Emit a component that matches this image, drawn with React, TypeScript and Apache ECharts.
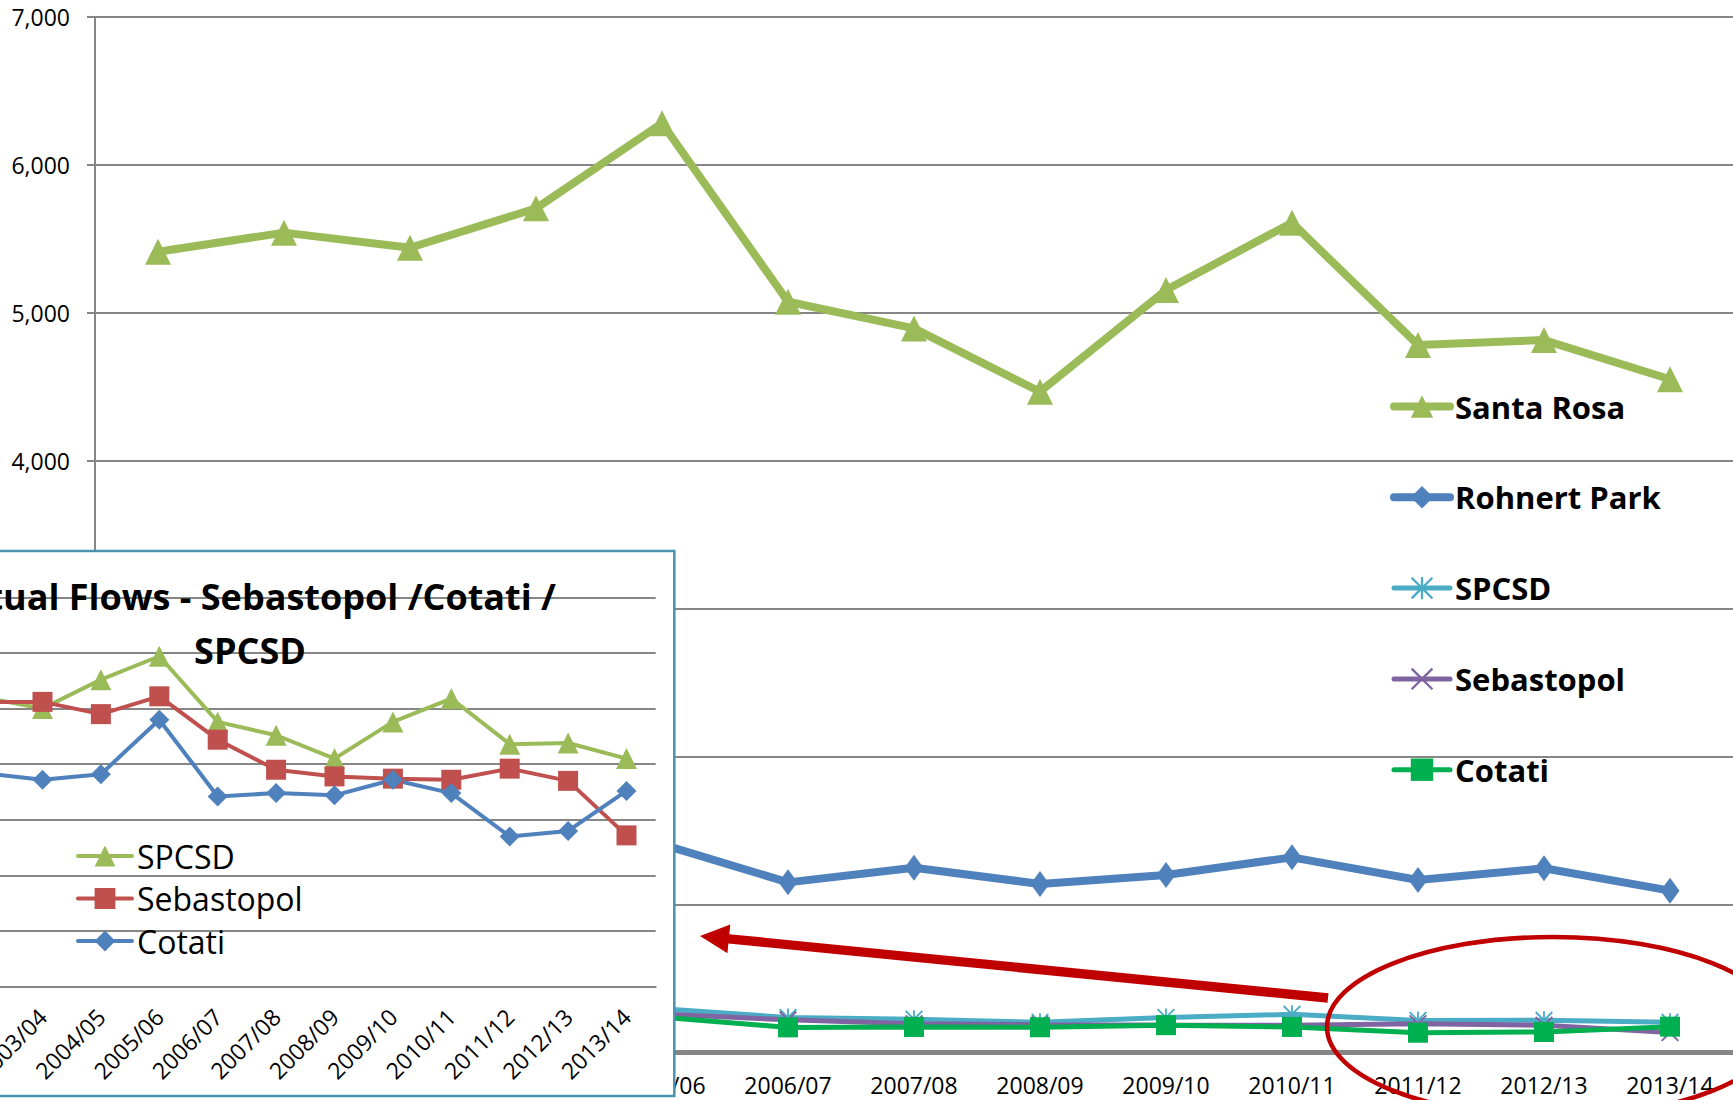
import React, { useEffect, useRef } from 'react';
import * as echarts from 'echarts';

// ---------- data ----------
const categories = [
  '2001/02', '2002/03', '2003/04', '2004/05', '2005/06', '2006/07', '2007/08',
  '2008/09', '2009/10', '2010/11', '2011/12', '2012/13', '2013/14',
];
const santaRosa = [5412, 5541, 5439, 5705, 6280, 5074, 4894, 4466, 5153, 5608, 4782, 4815, 4550];
const rohnertPark = [1470, 1500, 1440, 1430, 1408, 1151, 1250, 1140, 1201, 1320, 1167, 1246, 1095];
const spcsd = [262, 260, 250, 276, 297, 238, 226, 205, 238, 259, 218, 219, 205];
const sebastopol = [255, 256, 256, 245, 261, 222, 195, 189, 187, 186, 196, 185, 136];
const cotati = [190, 192, 186, 191, 240, 171, 174, 172, 186, 174, 135, 140, 176];

const mainLegend = ['Santa Rosa', 'Rohnert Park', 'SPCSD', 'Sebastopol', 'Cotati'];
const insetLegend = ['SPCSD ', 'Sebastopol ', 'Cotati '];
const insetTitle = 'Actual Flows - Sebastopol /Cotati /\nSPCSD';

// ---------- styles ----------
const FONT = "'Open Sans', sans-serif";
const GRID = '#868686';
const RED = '#C00000';

const X_SYMBOL =
  'path://M0,1.5 L1.5,0 L10,8.5 L18.5,0 L20,1.5 L11.5,10 L20,18.5 L18.5,20 L10,11.5 L1.5,20 L0,18.5 L8.5,10 Z';
const STAR_SYMBOL =
  'path://M0,1.5 L1.5,0 L10,8.5 L18.5,0 L20,1.5 L11.5,10 L20,18.5 L18.5,20 L10,11.5 L1.5,20 L0,18.5 L8.5,10 Z M9,0 L11,0 L11,20 L9,20 Z';

function arrowPoints(
  tail: number[],
  tip: number[],
  headLen: number,
  headHalf: number,
  shaftHalf: number
) {
  const dx = tip[0] - tail[0];
  const dy = tip[1] - tail[1];
  const len = Math.sqrt(dx * dx + dy * dy);
  const ux = dx / len;
  const uy = dy / len;
  const nx = -uy;
  const ny = ux;
  const bx = tip[0] - ux * headLen;
  const by = tip[1] - uy * headLen;
  return [
    [tail[0] + nx * shaftHalf, tail[1] + ny * shaftHalf],
    [bx + nx * shaftHalf, by + ny * shaftHalf],
    [bx + nx * headHalf, by + ny * headHalf],
    [tip[0], tip[1]],
    [bx - nx * headHalf, by - ny * headHalf],
    [bx - nx * shaftHalf, by - ny * shaftHalf],
    [tail[0] - nx * shaftHalf, tail[1] - ny * shaftHalf],
  ];
}

function mainLine(name: string, data: number[], color: string, width: number, symbol: string, size: any) {
  return {
    type: 'line',
    name,
    data,
    xAxisIndex: 0,
    yAxisIndex: 0,
    symbol,
    symbolSize: size,
    showAllSymbol: true,
    lineStyle: { color, width },
    itemStyle: { color },
    silent: true,
    z: 2,
  };
}

function insetLine(name: string, data: number[], color: string, symbol: string, size: any) {
  return {
    type: 'line',
    name,
    data,
    xAxisIndex: 1,
    yAxisIndex: 1,
    symbol,
    symbolSize: size,
    showAllSymbol: true,
    lineStyle: { color, width: 4 },
    itemStyle: { color },
    silent: true,
    z: 12,
  };
}

export default function App() {
  const ref = useRef<HTMLDivElement>(null);

  useEffect(() => {
    const chart = echarts.init(ref.current as HTMLDivElement, null, { renderer: 'svg' });
    const option: any = {
      animation: false,
      backgroundColor: '#ffffff',
      grid: [
        { left: 95, top: 16.7, right: 0, bottom: 47.3, outerBoundsMode: 'none', containLabel: false },
        {
          left: -103.5,
          top: 597.3,
          width: 759.2,
          height: 389.4,
          outerBoundsMode: 'none',
          containLabel: false,
        },
      ],
      xAxis: [
        {
          type: 'category',
          gridIndex: 0,
          data: categories,
          boundaryGap: true,
          axisLine: { lineStyle: { color: GRID, width: 5 } },
          axisTick: { interval: 0, length: 8, lineStyle: { color: GRID, width: 5 } },
          axisLabel: {
            interval: (i: number) => i >= 4,
            color: '#000',
            fontFamily: FONT,
            fontSize: 23,
            margin: 21,
          },
          z: 0,
        },
        {
          type: 'category',
          gridIndex: 1,
          data: categories,
          boundaryGap: true,
          axisLine: { lineStyle: { color: GRID, width: 2 } },
          axisTick: { interval: 0, length: 8, lineStyle: { color: GRID, width: 2 } },
          axisLabel: {
            interval: (i: number) => i >= 2,
            rotate: 45,
            color: '#000',
            fontFamily: FONT,
            fontSize: 23,
            margin: 26,
          },
          z: 11,
        },
      ],
      yAxis: [
        {
          type: 'value',
          gridIndex: 0,
          min: 0,
          max: 7000,
          interval: 1000,
          axisLine: { show: true, lineStyle: { color: GRID, width: 2 } },
          axisTick: { show: true, length: 8, lineStyle: { color: GRID, width: 2 } },
          splitLine: { show: true, lineStyle: { color: GRID, width: 2 } },
          axisLabel: {
            formatter: (v: number) => (v >= 4000 ? v.toLocaleString('en-US') : ''),
            color: '#000',
            fontFamily: FONT,
            fontSize: 23,
            margin: 25,
          },
          z: 0,
        },
        {
          type: 'value',
          gridIndex: 1,
          min: 0,
          max: 350,
          interval: 50,
          axisLine: { show: false },
          axisTick: { show: false },
          axisLabel: { show: false },
          splitLine: { show: true, lineStyle: { color: GRID, width: 2 } },
          z: 11,
        },
      ],
      legend: [
        {
          data: mainLegend,
          orient: 'vertical',
          left: 1390,
          top: 391,
          padding: 0,
          itemWidth: 56,
          itemHeight: 28,
          itemGap: 59.8,
          selectedMode: false,
          lineStyle: { width: 'inherit', cap: 'round' },
          textStyle: { fontFamily: FONT, fontSize: 31, fontWeight: 'bold', color: '#000', lineHeight: 28 },
          z: 4,
        },
        {
          data: insetLegend,
          formatter: (n: string) => n.trim(),
          orient: 'vertical',
          left: 76,
          top: 840,
          padding: 0,
          itemWidth: 54,
          itemHeight: 26,
          itemGap: 10.5,
          selectedMode: false,
          lineStyle: { width: 'inherit', cap: 'round' },
          textStyle: { fontFamily: FONT, fontSize: 32, color: '#000', lineHeight: 26 },
          z: 13,
        },
      ],
      series: [
        mainLine('Santa Rosa', santaRosa, '#9BBB59', 8, 'triangle', 26),
        mainLine('Rohnert Park', rohnertPark, '#4F81BD', 8, 'diamond', [19, 26]),
        mainLine('SPCSD', spcsd, '#4BACC6', 5, STAR_SYMBOL, 18),
        mainLine('Sebastopol', sebastopol, '#8064A2', 5, X_SYMBOL, 18),
        mainLine('Cotati', cotati, '#00B050', 5, 'rect', 20),
        insetLine('SPCSD ', spcsd, '#9BBB59', 'triangle', 21),
        insetLine('Sebastopol ', sebastopol, '#C0504D', 'rect', 20),
        insetLine('Cotati ', cotati, '#4F81BD', 'diamond', 20),
      ],
      graphic: [
        {
          type: 'rect',
          shape: { x: -10, y: 551, width: 684.3, height: 545 },
          style: { fill: '#ffffff', stroke: '#4A93AE', lineWidth: 2.5 },
          z: 10,
          silent: true,
        },
        {
          type: 'text',
          x: 250,
          y: 623,
          style: {
            text: insetTitle,
            fontFamily: FONT,
            fontSize: 36,
            fontWeight: 'bold',
            fill: '#000',
            textFill: '#000',
            align: 'center',
            textAlign: 'center',
            verticalAlign: 'middle',
            textVerticalAlign: 'middle',
            lineHeight: 54,
          },
          z: 13,
          silent: true,
        },
        {
          type: 'polygon',
          shape: { points: arrowPoints([1328, 998], [700, 936], 29, 14.5, 4.7) },
          style: { fill: RED },
          z: 15,
          silent: true,
        },
        {
          type: 'ellipse',
          shape: { cx: 1553, cy: 1027, rx: 226, ry: 90 },
          style: { fill: 'none', stroke: RED, lineWidth: 4.5 },
          z: 15,
          silent: true,
        },
      ],
    };
    chart.setOption(option);
    return () => chart.dispose();
  }, []);

  return (
    <div
      ref={ref}
      style={{ position: 'absolute', left: 0, top: 0, width: 1733, height: 1100, overflow: 'hidden' }}
    />
  );
}
